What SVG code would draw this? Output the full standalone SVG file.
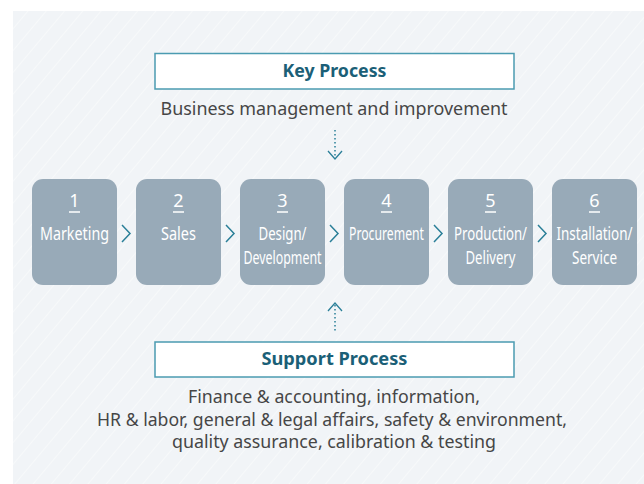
<svg xmlns="http://www.w3.org/2000/svg" width="644" height="484" viewBox="0 0 644 484">
  <defs>
    <pattern id="stripes" patternUnits="userSpaceOnUse" width="14" height="14" patternTransform="rotate(40)">
      <rect width="14" height="14" fill="#f1f4f7"/>
      <line x1="0" y1="0" x2="0" y2="14" stroke="#ffffff" stroke-width="1.2" stroke-opacity="0.7"/>
    </pattern>
    <style>
      .title { font-family: "Noto Sans", "Liberation Sans", sans-serif; font-weight: bold; font-size: 18px; fill: #1b5f77; text-anchor: middle; }
      .body { font-family: "Noto Sans", "Liberation Sans", sans-serif; font-size: 18px; fill: #464646; text-anchor: middle; }
      .hdr { fill: #ffffff; stroke: #4b9bb1; stroke-width: 1.5; }
      .step { fill: #98aab8; }
      .num { font-family: "Noto Sans", "Liberation Sans", sans-serif; font-size: 18px; fill: #ffffff; text-anchor: middle; }
      .lbl { font-family: "Noto Sans", "Liberation Sans", sans-serif; font-size: 18.5px; fill: #ffffff; text-anchor: middle; }
      .uline { stroke: #ffffff; stroke-width: 1.5; }
      .chev { fill: none; stroke: #2a7f98; stroke-width: 1.5; }
      .dot { fill: none; stroke: #2a7f98; stroke-width: 1.5; stroke-dasharray: 1.5 2.5; }
      .head { fill: none; stroke: #2a7f98; stroke-width: 1.3; }
    </style>
  </defs>

  <rect x="0" y="0" width="644" height="484" fill="#ffffff"/>
  <rect x="13" y="11" width="631" height="473" fill="url(#stripes)"/>

  <g id="key-process">
    <rect class="hdr" x="155" y="53.5" width="359" height="35.5"/>
    <text class="title" x="334.5" y="77" textLength="104" lengthAdjust="spacingAndGlyphs">Key Process</text>
  </g>
  <g id="key-desc">
    <text class="body" x="334" y="115" textLength="347" lengthAdjust="spacingAndGlyphs">Business management and improvement</text>
  </g>

  <g id="step1">
    <rect class="step" x="32" y="179" width="85" height="106" rx="11"/>
    <text class="num" x="74.5" y="207">1</text>
    <line class="uline" x1="69" y1="212" x2="80" y2="212"/>
    <text class="lbl" x="74.5" y="240" textLength="69" lengthAdjust="spacingAndGlyphs">Marketing</text>
  </g>
  <g id="step2">
    <rect class="step" x="136" y="179" width="85" height="106" rx="11"/>
    <text class="num" x="178.5" y="207">2</text>
    <line class="uline" x1="173" y1="212" x2="184" y2="212"/>
    <text class="lbl" x="178.5" y="240" textLength="35" lengthAdjust="spacingAndGlyphs">Sales</text>
  </g>
  <g id="step3">
    <rect class="step" x="240" y="179" width="85" height="106" rx="11"/>
    <text class="num" x="282.5" y="207">3</text>
    <line class="uline" x1="277" y1="212" x2="288" y2="212"/>
    <text class="lbl" x="282.5" y="240" textLength="48" lengthAdjust="spacingAndGlyphs">Design/</text>
    <text class="lbl" x="282.5" y="264" textLength="78" lengthAdjust="spacingAndGlyphs">Development</text>
  </g>
  <g id="step4">
    <rect class="step" x="344" y="179" width="85" height="106" rx="11"/>
    <text class="num" x="386.5" y="207">4</text>
    <line class="uline" x1="381" y1="212" x2="392" y2="212"/>
    <text class="lbl" x="386.5" y="240" textLength="75" lengthAdjust="spacingAndGlyphs">Procurement</text>
  </g>
  <g id="step5">
    <rect class="step" x="448" y="179" width="85" height="106" rx="11"/>
    <text class="num" x="490.5" y="207">5</text>
    <line class="uline" x1="485" y1="212" x2="496" y2="212"/>
    <text class="lbl" x="490.5" y="240" textLength="73" lengthAdjust="spacingAndGlyphs">Production/</text>
    <text class="lbl" x="490.5" y="264" textLength="50" lengthAdjust="spacingAndGlyphs">Delivery</text>
  </g>
  <g id="step6">
    <rect class="step" x="552" y="179" width="85" height="106" rx="11"/>
    <text class="num" x="594.5" y="207">6</text>
    <line class="uline" x1="589" y1="212" x2="600" y2="212"/>
    <text class="lbl" x="594.5" y="240" textLength="76" lengthAdjust="spacingAndGlyphs">Installation/</text>
    <text class="lbl" x="594.5" y="264" textLength="45" lengthAdjust="spacingAndGlyphs">Service</text>
  </g>

  <g id="support-process">
    <rect class="hdr" x="155" y="342" width="359" height="35"/>
    <text class="title" x="334.5" y="365" textLength="146" lengthAdjust="spacingAndGlyphs">Support Process</text>
  </g>
  <g id="support-desc">
    <text class="body" x="334" y="403" textLength="292" lengthAdjust="spacingAndGlyphs">Finance &amp; accounting, information,</text>
    <text class="body" x="332" y="426" textLength="470" lengthAdjust="spacingAndGlyphs">HR &amp; labor, general &amp; legal affairs, safety &amp; environment,</text>
    <text class="body" x="334" y="448" textLength="324" lengthAdjust="spacingAndGlyphs">quality assurance, calibration &amp; testing</text>
  </g>

  <g id="connectors">
    <line class="dot" x1="335" y1="130" x2="335" y2="158"/>
    <polyline class="head" points="328,151 335,159 342,151"/>
    <line class="dot" x1="335" y1="305" x2="335" y2="333"/>
    <polyline class="head" points="328,311 335,303 342,311"/>
    <polyline class="chev" points="122,225 130,233.5 122,242"/>
    <polyline class="chev" points="226,225 234,233.5 226,242"/>
    <polyline class="chev" points="330,225 338,233.5 330,242"/>
    <polyline class="chev" points="434,225 442,233.5 434,242"/>
    <polyline class="chev" points="538,225 546,233.5 538,242"/>
  </g>
</svg>
